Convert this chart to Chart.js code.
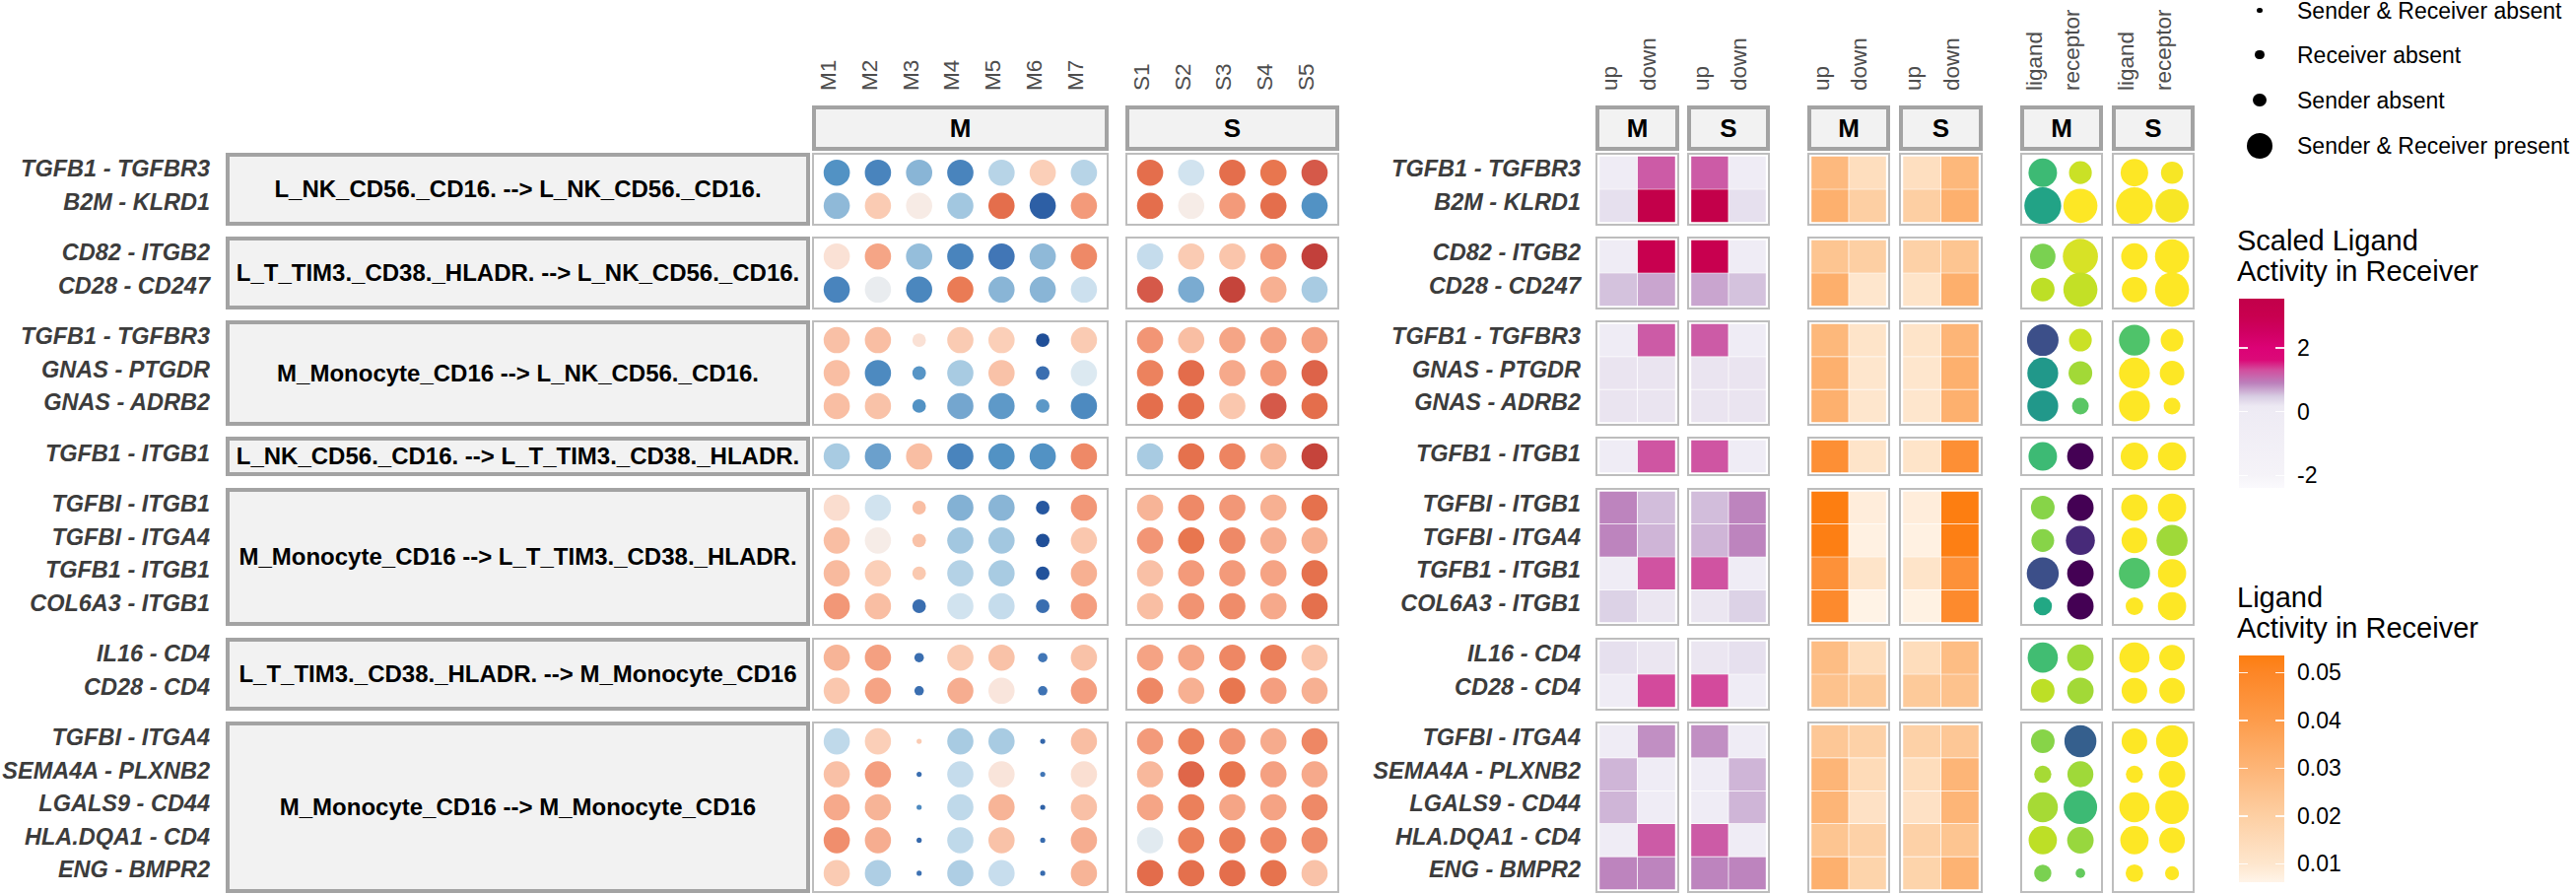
<!DOCTYPE html>
<html><head><meta charset="utf-8"><title>Ligand activity</title>
<script src="https://cdn.jsdelivr.net/npm/chart.js@4.4.1/dist/chart.umd.min.js"></script>
<style>
html,body{margin:0;padding:0;background:#fff;}
#root{position:relative;width:2614px;height:907px;overflow:hidden;background:#fff;font-family:"Liberation Sans",Arial,Helvetica,sans-serif;}
.a{position:absolute;white-space:nowrap;}
.frame{position:absolute;box-sizing:border-box;border:2px solid #bdbdbd;pointer-events:none;}
.strip{position:absolute;box-sizing:border-box;border:4px solid #a3a3a3;background:#f2f2f2;display:flex;align-items:center;justify-content:center;font-weight:bold;color:#000;white-space:nowrap;}
</style></head><body><div id="root"></div>
<script>
// ---------------- DATA ----------------
const groupLabels = [
  'L_NK_CD56._CD16. --> L_NK_CD56._CD16.',
  'L_T_TIM3._CD38._HLADR. --> L_NK_CD56._CD16.',
  'M_Monocyte_CD16 --> L_NK_CD56._CD16.',
  'L_NK_CD56._CD16. --> L_T_TIM3._CD38._HLADR.',
  'M_Monocyte_CD16 --> L_T_TIM3._CD38._HLADR.',
  'L_T_TIM3._CD38._HLADR. --> M_Monocyte_CD16',
  'M_Monocyte_CD16 --> M_Monocyte_CD16'
];
const groupSizes = [2, 2, 3, 1, 4, 2, 5];
const pairLabels = ['TGFB1 - TGFBR3','B2M - KLRD1','CD82 - ITGB2','CD28 - CD247','TGFB1 - TGFBR3','GNAS - PTGDR','GNAS - ADRB2','TGFB1 - ITGB1','TGFBI - ITGB1','TGFBI - ITGA4','TGFB1 - ITGB1','COL6A3 - ITGB1','IL16 - CD4','CD28 - CD4','TGFBI - ITGA4','SEMA4A - PLXNB2','LGALS9 - CD44','HLA.DQA1 - CD4','ENG - BMPR2'];
const conditions = ['M', 'S'];
const samplesM = ['M1','M2','M3','M4','M5','M6','M7'];
const samplesS = ['S1','S2','S3','S4','S5'];
const directionLabels = ['up', 'down'];
const moleculeLabels = ['ligand', 'receptor'];
const presenceLabels = ['Sender & Receiver absent', 'Receiver absent', 'Sender absent', 'Sender & Receiver present'];

// per-sample scaled ligand-receptor score (diverging)
const dotValueM = [
  [-0.6,-0.65,-0.4,-0.65,-0.25,0.2,-0.25],
  [-0.38,0.22,0.03,-0.32,0.65,-0.85,0.45],
  [0.1,0.4,-0.36,-0.65,-0.7,-0.38,0.52],
  [-0.65,-0.05,-0.64,0.58,-0.4,-0.4,-0.17],
  [0.27,0.28,0.1,0.22,0.2,-0.95,0.22],
  [0.28,-0.63,-0.58,-0.3,0.26,-0.75,-0.1],
  [0.28,0.26,-0.6,-0.47,-0.55,-0.56,-0.63],
  [-0.3,-0.5,0.28,-0.65,-0.6,-0.6,0.52],
  [0.12,-0.15,0.28,-0.42,-0.4,-0.9,0.46],
  [0.28,0.02,0.26,-0.32,-0.32,-0.95,0.24],
  [0.3,0.2,0.23,-0.26,-0.3,-0.93,0.35],
  [0.46,0.28,-0.75,-0.15,-0.2,-0.75,0.43],
  [0.33,0.42,-0.75,0.22,0.26,-0.7,0.26],
  [0.24,0.41,-0.75,0.36,0.07,-0.72,0.43],
  [-0.22,0.2,0.22,-0.3,-0.3,-0.8,0.28],
  [0.27,0.43,-0.75,-0.2,0.08,-0.7,0.11],
  [0.38,0.33,-0.63,-0.22,0.33,-0.83,0.27],
  [0.5,0.36,-0.78,-0.22,0.26,-0.77,0.36],
  [0.22,-0.28,-0.73,-0.28,-0.19,-0.77,0.33]
];
const dotValueS = [
  [0.65,-0.15,0.65,0.6,0.8],
  [0.65,0.02,0.45,0.65,-0.6],
  [-0.2,0.22,0.25,0.45,0.92],
  [0.8,-0.45,0.9,0.35,-0.3],
  [0.47,0.28,0.4,0.42,0.42],
  [0.55,0.66,0.38,0.45,0.72],
  [0.65,0.65,0.24,0.8,0.65],
  [-0.3,0.63,0.54,0.32,0.9],
  [0.33,0.52,0.46,0.35,0.63],
  [0.47,0.6,0.52,0.36,0.35],
  [0.27,0.45,0.45,0.41,0.63],
  [0.28,0.48,0.51,0.38,0.64],
  [0.41,0.4,0.53,0.56,0.25],
  [0.53,0.35,0.6,0.43,0.35],
  [0.45,0.56,0.48,0.37,0.53],
  [0.31,0.7,0.6,0.42,0.38],
  [0.4,0.56,0.4,0.41,0.52],
  [-0.08,0.56,0.57,0.53,0.51],
  [0.66,0.64,0.65,0.62,0.26]
];
// presence code: 0 both absent, 1 receiver absent, 2 sender absent, 3 present
const presenceM = [
  [3,3,3,3,3,3,3],[3,3,3,3,3,3,3],
  [3,3,3,3,3,3,3],[3,3,3,3,3,3,3],
  [3,3,2,3,3,2,3],[3,3,2,3,3,2,3],[3,3,2,3,3,2,3],
  [3,3,3,3,3,3,3],
  [3,3,2,3,3,2,3],[3,3,2,3,3,2,3],[3,3,2,3,3,2,3],[3,3,2,3,3,2,3],
  [3,3,1,3,3,1,3],[3,3,1,3,3,1,3],
  [3,3,0,3,3,0,3],[3,3,0,3,3,0,3],[3,3,0,3,3,0,3],[3,3,0,3,3,0,3],[3,3,0,3,3,0,3]
];
const presenceS = pairLabels.map(() => [3,3,3,3,3]);

// scaled ligand activity in receiver [up, down]
const scaledActM = [[-0.3,1.2],[0.27,3.5],[-0.3,3.0],[0.54,0.7],[-0.3,1.2],[0.22,0.22],[0.22,0.22],[-0.3,1.25],[0.88,0.57],[0.88,0.61],[-0.3,1.27],[0.42,0.2],[0.27,0.2],[-0.3,1.33],[-0.3,0.82],[0.61,-0.3],[0.61,-0.3],[-0.3,1.2],[0.88,0.88]];
const scaledActS = [[1.2,-0.3],[3.5,0.27],[3.0,-0.3],[0.7,0.54],[1.2,-0.3],[0.22,0.22],[0.22,0.22],[1.25,-0.3],[0.57,0.88],[0.61,0.88],[1.27,-0.3],[0.2,0.42],[0.2,0.27],[1.33,-0.3],[0.82,-0.3],[-0.3,0.61],[-0.3,0.61],[1.2,-0.3],[0.88,0.88]];
// ligand activity in receiver [up, down]
const ligandActM = [[0.0285,0.0135],[0.032,0.02],[0.024,0.02],[0.0325,0.01],[0.029,0.011],[0.032,0.01],[0.032,0.01],[0.046,0.011],[0.0535,0.008],[0.053,0.007],[0.045,0.011],[0.048,0.0065],[0.027,0.014],[0.025,0.022],[0.023,0.019],[0.03,0.015],[0.03,0.012],[0.024,0.019],[0.032,0.018]];
const ligandActS = [[0.013,0.029],[0.02,0.032],[0.019,0.024],[0.011,0.0325],[0.011,0.03],[0.01,0.032],[0.01,0.032],[0.011,0.046],[0.008,0.0535],[0.007,0.053],[0.011,0.045],[0.0068,0.048],[0.014,0.027],[0.022,0.025],[0.019,0.023],[0.014,0.03],[0.012,0.03],[0.019,0.024],[0.018,0.031]];
// scaled expression [ligand, receptor] (colour) and fraction expressing (size)
const exprColorM = [[0.68,0.92],[0.58,1.0],[0.8,0.94],[0.9,0.91],[0.24,0.92],[0.53,0.86],[0.53,0.74],[0.68,0.0],[0.82,0.0],[0.82,0.12],[0.24,0.0],[0.6,0.0],[0.69,0.855],[0.9,0.86],[0.82,0.3],[0.865,0.855],[0.865,0.68],[0.9,0.845],[0.8,0.76]];
const exprColorS = [[1,0.99],[1,0.99],[1,1],[1,1],[0.72,1],[1,1],[1,1],[1,1],[1,1],[1,0.855],[0.72,1],[1,1],[1,1],[1,1],[1,1],[1,1],[1,1],[1,1],[1,1]];
const exprSizeM = [[0.58,0.37],[0.97,0.83],[0.46,0.88],[0.40,0.83],[0.71,0.37],[0.68,0.40],[0.68,0.20],[0.58,0.50],[0.40,0.50],[0.37,0.60],[0.73,0.50],[0.24,0.50],[0.65,0.50],[0.40,0.50],[0.40,0.73],[0.21,0.48],[0.65,0.80],[0.57,0.50],[0.21,0.065]];
const exprSizeS = [[0.54,0.35],[0.97,0.80],[0.50,0.83],[0.46,0.83],[0.68,0.37],[0.68,0.43],[0.68,0.20],[0.54,0.57],[0.50,0.57],[0.47,0.69],[0.69,0.57],[0.22,0.57],[0.65,0.47],[0.47,0.47],[0.47,0.73],[0.21,0.50],[0.65,0.80],[0.57,0.47],[0.22,0.14]];

const scaledTicks = [2, 0, -2];
const scaledRange = [-2.39, 3.55];
const activityTicks = [0.05, 0.04, 0.03, 0.02, 0.01];
const activityRange = [0.00615, 0.0536];

// ---------------- STYLE / COLOUR SCALES ----------------
const hex2rgb = h => [parseInt(h.slice(1,3),16), parseInt(h.slice(3,5),16), parseInt(h.slice(5,7),16)];
function colorScale(stops) {
  const s = stops.map(([v,h]) => [v, hex2rgb(h)]);
  return v => {
    let c;
    if (v <= s[0][0]) c = s[0][1];
    else if (v >= s[s.length-1][0]) c = s[s.length-1][1];
    else for (let k = 1; k < s.length; k++) {
      if (v <= s[k][0]) { const t = (v - s[k-1][0]) / (s[k][0] - s[k-1][0]); c = s[k-1][1].map((x,i) => Math.round(x + (s[k][1][i] - x) * t)); break; }
    }
    return `rgb(${c[0]},${c[1]},${c[2]})`;
  };
}
const dotStops = [[-1,'#1a468f'],[-0.9,'#2657a0'],[-0.8,'#3366aa'],[-0.7,'#4176b6'],[-0.6,'#5292c4'],[-0.5,'#6ba0cc'],[-0.4,'#89b5d6'],[-0.3,'#a8cbe2'],[-0.2,'#c5dcec'],[-0.1,'#dce9f1'],[0,'#f5efec'],[0.1,'#fae1d5'],[0.2,'#fbcfb8'],[0.3,'#f8ba9e'],[0.4,'#f5a586'],[0.5,'#f08e6d'],[0.6,'#e8764f'],[0.7,'#df6649'],[0.8,'#d55949'],[0.9,'#c5443b'],[1,'#b8303a']];
const heatStops = [[-2.39,'#fbfafd'],[-2,'#f5f3f8'],[0,'#eeebf4'],[0.17,'#ede9f3'],[0.48,'#d8cde3'],[0.9,'#bc80bc'],[1.31,'#d24e9e'],[1.62,'#db0a78'],[2.0,'#dc0276'],[2.5,'#d00062'],[3.0,'#c8004f'],[3.55,'#c2004a']];
const orangeStops = [[0.00615,'#fff4e8'],[0.01,'#fee6cd'],[0.02,'#fdcfa3'],[0.03,'#fdb577'],[0.04,'#fd9c4b'],[0.05,'#fd8626'],[0.0536,'#fd7e10']];
const viridisStops = [[0,'#440154'],[0.1,'#482475'],[0.2,'#414487'],[0.3,'#355f8d'],[0.4,'#2a788e'],[0.5,'#21918c'],[0.6,'#22a884'],[0.7,'#44bf70'],[0.8,'#7ad151'],[0.9,'#bddf26'],[1,'#fde725']];
const dotColor = colorScale(dotStops), heatColor = colorScale(heatStops), orangeColor = colorScale(orangeStops), viridis = colorScale(viridisStops);
const presenceRadius = [2.6, 4.8, 6.9, 13.3];
const exprRadius = v => 19 * Math.sqrt(v);

const U = 33.45, GAP = 11.4, TOP = 155, HEAD = [107, 153];
const X = { labL: 213, strip: [229, 822], dotM: [824, 1125], dotS: [1142, 1359], labR: 1604,
  heatM: [1619, 1704], heatS: [1712, 1796], actM: [1834, 1918], actS: [1927, 2012], exprM: [2050, 2134], exprS: [2143, 2227] };
const GENE_FONT = 'italic bold 23.5px "Liberation Sans", Arial, sans-serif';
const TICK_F = 22.5;

// ---------------- HELPERS ----------------
const root = document.getElementById('root');
function el(cls, css, txt) { const d = document.createElement('div'); if (cls) d.className = cls; d.style.cssText = css; if (txt !== undefined) d.textContent = txt; root.appendChild(d); return d; }
function canvasAt(x0, x1, top, h) { const c = document.createElement('canvas'); const w = x1 - x0; c.width = w; c.height = h; c.style.cssText = `position:absolute;left:${x0}px;top:${top}px;width:${w}px;height:${h}px;`; root.appendChild(c); return c; }
function frame(x0, x1, top, h) { el('frame', `left:${x0}px;top:${top}px;width:${x1-x0}px;height:${h}px;`); }
const baseOpts = extra => Object.assign({ responsive: false, animation: false, devicePixelRatio: 1, events: [], plugins: { legend: { display: false }, tooltip: { enabled: false } } }, extra);

function bubblePanel(x0, x1, top, h, ncol, nrow, points) {
  const c = canvasAt(x0, x1, top, h);
  new Chart(c, { type: 'bubble',
    data: { datasets: [{ data: points.map(p => ({ x: p.x, y: p.y, r: p.r })), backgroundColor: points.map(p => p.c), borderWidth: 0, hoverBorderWidth: 0, clip: false }] },
    options: baseOpts({ layout: { padding: 0, autoPadding: false }, scales: {
      x: { type: 'linear', min: -0.6, max: ncol - 0.4, display: false },
      y: { type: 'linear', min: -0.6, max: nrow - 0.4, reverse: true, display: false } } }) });
  frame(x0, x1, top, h);
}
function tilePanel(x0, x1, top, h, labels, colorRows) {
  const c = canvasAt(x0, x1, top, h); const w = x1 - x0; const pad = 0.1 * w / (labels.length + 0.2); const n = colorRows.length;
  new Chart(c, { type: 'bar',
    data: { labels, datasets: colorRows.map((cols, i) => ({ data: labels.map(() => [i - 0.5, i + 0.5]), backgroundColor: cols,
      borderColor: 'rgba(255,255,255,0.75)', borderWidth: 0.7, borderSkipped: false, grouped: false, barPercentage: 1, categoryPercentage: 1 })) },
    options: baseOpts({ layout: { autoPadding: false, padding: { left: pad, right: pad, top: 0, bottom: 0 } }, scales: {
      x: { type: 'category', offset: true, display: false, grid: { display: false } },
      y: { type: 'linear', min: -0.6, max: n - 0.4, reverse: true, display: false } } }) });
  frame(x0, x1, top, h);
}
function colX(range, n, j) { return range[0] + (j + 0.6) * (range[1] - range[0]) / (n + 0.2); }
// rotated tick label: reads bottom-to-top, starts at y = bottom, baseline on the column centre
function vLabel(txt, x, bottom) {
  el('a', `left:${x - 0.8465 * TICK_F}px;top:${bottom}px;font-size:${TICK_F}px;line-height:1;color:#4d4d4d;transform:rotate(-90deg);transform-origin:0 0;`, txt);
}

// ---------------- LAYOUT ----------------
const groupTop = [], groupStart = [];
{ let y = TOP, r = 0; groupSizes.forEach(n => { groupTop.push(y); groupStart.push(r); y += (n + 0.2) * U + GAP; r += n; }); }

// header strips + column labels
const headerPanels = [
  [X.dotM, 'M', samplesM], [X.dotS, 'S', samplesS],
  [X.heatM, 'M', directionLabels], [X.heatS, 'S', directionLabels],
  [X.actM, 'M', directionLabels], [X.actS, 'S', directionLabels],
  [X.exprM, 'M', moleculeLabels], [X.exprS, 'S', moleculeLabels]
];
headerPanels.forEach(([rg, cond, labs]) => {
  el('strip', `left:${rg[0]}px;top:${HEAD[0]}px;width:${rg[1]-rg[0]}px;height:${HEAD[1]-HEAD[0]}px;font-size:26px;`, cond);
  labs.forEach((t, j) => vLabel(t, colX(rg, labs.length, j), 92));
});

groupSizes.forEach((n, g) => {
  const top = Math.round(groupTop[g]); const h = Math.round((n + 0.2) * U);
  const rows = []; for (let i = 0; i < n; i++) rows.push(groupStart[g] + i);
  rows.forEach((r, i) => {
    const yc = groupTop[g] + (i + 0.6) * U;
    el('a', `left:0;width:${X.labL}px;text-align:right;top:${yc - U/2}px;height:${U}px;line-height:${U}px;font:${GENE_FONT};color:#3c3c3c;`, pairLabels[r]);
    el('a', `left:${X.labR - 400}px;width:400px;text-align:right;top:${yc - U/2}px;height:${U}px;line-height:${U}px;font:${GENE_FONT};color:#3c3c3c;`, pairLabels[r]);
  });
  el('strip', `left:${X.strip[0]}px;top:${top}px;width:${X.strip[1]-X.strip[0]}px;height:${h}px;font-size:24px;`, groupLabels[g]);
  const ptsM = [], ptsS = [];
  rows.forEach((r, i) => {
    samplesM.forEach((s, j) => ptsM.push({ x: j, y: i, r: presenceRadius[presenceM[r][j]], c: dotColor(dotValueM[r][j]) }));
    samplesS.forEach((s, j) => ptsS.push({ x: j, y: i, r: presenceRadius[presenceS[r][j]], c: dotColor(dotValueS[r][j]) }));
  });
  bubblePanel(X.dotM[0], X.dotM[1], top, h, samplesM.length, n, ptsM);
  bubblePanel(X.dotS[0], X.dotS[1], top, h, samplesS.length, n, ptsS);
  tilePanel(X.heatM[0], X.heatM[1], top, h, directionLabels, rows.map(r => scaledActM[r].map(heatColor)));
  tilePanel(X.heatS[0], X.heatS[1], top, h, directionLabels, rows.map(r => scaledActS[r].map(heatColor)));
  tilePanel(X.actM[0], X.actM[1], top, h, directionLabels, rows.map(r => ligandActM[r].map(orangeColor)));
  tilePanel(X.actS[0], X.actS[1], top, h, directionLabels, rows.map(r => ligandActS[r].map(orangeColor)));
  const eM = [], eS = [];
  rows.forEach((r, i) => moleculeLabels.forEach((m, j) => {
    eM.push({ x: j, y: i, r: exprRadius(exprSizeM[r][j]), c: viridis(exprColorM[r][j]) });
    eS.push({ x: j, y: i, r: exprRadius(exprSizeS[r][j]), c: viridis(exprColorS[r][j]) });
  }));
  bubblePanel(X.exprM[0], X.exprM[1], top, h, 2, n, eM);
  bubblePanel(X.exprS[0], X.exprS[1], top, h, 2, n, eS);
});

// ---------------- LEGENDS ----------------
const sizeLegY = [10.5, 55.5, 101.5, 148];
presenceLabels.forEach((t, k) => {
  const r = presenceRadius[k];
  el('a', `left:${2293 - r}px;top:${sizeLegY[k] - r}px;width:${2*r}px;height:${2*r}px;border-radius:50%;background:#000;`);
  el('a', `left:2331px;top:${sizeLegY[k] - 15}px;height:30px;line-height:30px;font-size:23px;color:#000;`, t);
});
function colorbar(titleLines, titleY, barTop, barBot, range, stops, ticks, fmt) {
  el('a', `left:2270px;top:${titleY - 15.5}px;font-size:29px;line-height:31px;color:#000;`, '').innerHTML = titleLines.join('<br>');
  const span = range[1] - range[0];
  const grad = stops.filter(s => s[0] >= range[0] && s[0] <= range[1]).map(([v, h]) => `${h} ${((v - range[0]) / span * 100).toFixed(2)}%`).join(',');
  el('a', `left:2272px;top:${barTop}px;width:46px;height:${barBot - barTop}px;background:linear-gradient(to top,${grad});`);
  ticks.forEach(t => {
    const y = barTop + (range[1] - t) / span * (barBot - barTop);
    el('a', `left:2272px;top:${y - 0.75}px;width:9px;height:1.5px;background:rgba(255,255,255,0.9);`);
    el('a', `left:2309px;top:${y - 0.75}px;width:9px;height:1.5px;background:rgba(255,255,255,0.9);`);
    el('a', `left:2331px;top:${y - 15}px;height:30px;line-height:30px;font-size:23px;color:#000;`, fmt(t));
  });
}
colorbar(['Scaled Ligand', 'Activity in Receiver'], 244.6, 303, 495, scaledRange, heatStops, scaledTicks, t => String(t));
colorbar(['Ligand', 'Activity in Receiver'], 606.7, 665, 895, activityRange, orangeStops, activityTicks, t => t.toFixed(2));
</script></body></html>
